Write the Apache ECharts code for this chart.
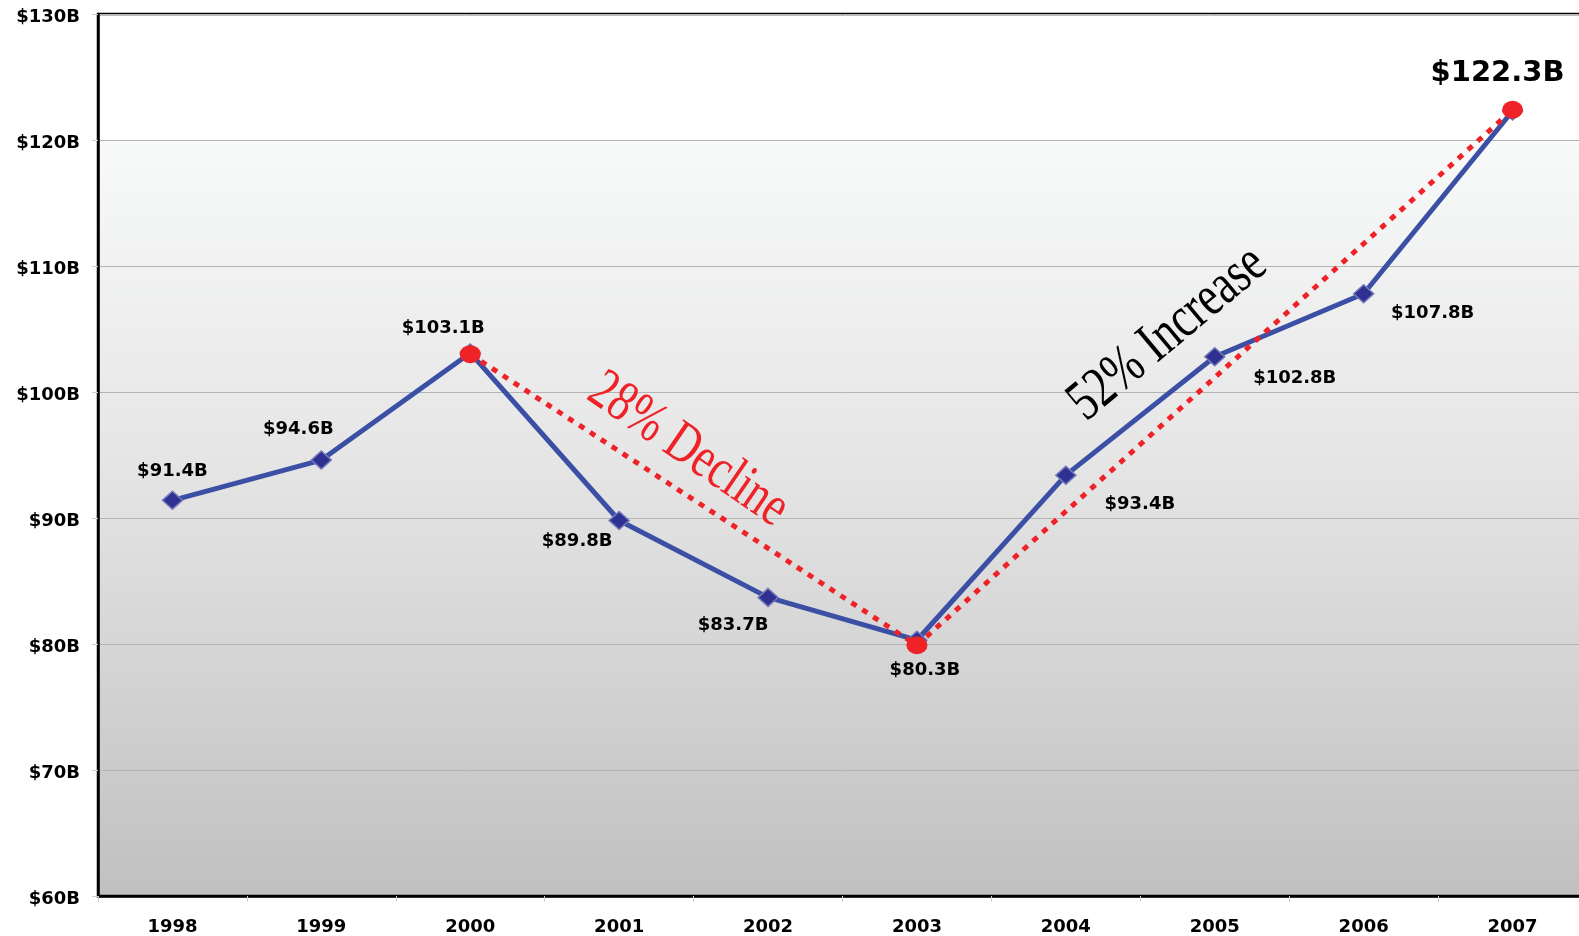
<!DOCTYPE html>
<html>
<head>
<meta charset="utf-8">
<script src="https://cdn.jsdelivr.net/npm/echarts@6/dist/echarts.min.js"></script>
<style>
html,body{margin:0;padding:0;background:#fff;overflow:hidden;width:1579px;height:936px;}
#chart{width:1592px;height:936px;}
</style>
</head>
<body>
<div id="chart"></div>
<script>
// ---- data ----
var years = ['1998','1999','2000','2001','2002','2003','2004','2005','2006','2007'];
var revenue = [91.4, 94.6, 103.1, 89.8, 83.7, 80.3, 93.4, 102.8, 107.8, 122.3];
var trendIdx = [2, 5, 9];
var trendVals = [103.0, 79.9, 122.4];
var yTicks = [60, 70, 80, 90, 100, 110, 120, 130];
var annotations = ['28% Decline', '52% Increase'];

// ---- label placement (style, not data) ----
var labelOffsets = [[0,-29],[-23,-31],[-27,-25],[-42,21],[-35,28],[8,30],[74,29],[80,22],[69,20],[-15,-38]];

var chart = echarts.init(document.getElementById('chart'));

var blueData = revenue.map(function (v, i) {
  var big = i === revenue.length - 1;
  return {
    value: v,
    label: {
      show: true,
      position: 'inside',
      offset: labelOffsets[i],
      fontSize: big ? 29 : 18
    }
  };
});
var redData = trendIdx.map(function (ix, k) { return [ix, trendVals[k]]; });

var option = {
  backgroundColor: '#fff',
  animation: false,
  grid: {
    left: 98, right: 5, top: 14, bottom: 40,
    show: true,
    borderColor: '#000', borderWidth: 2.5,
    backgroundColor: {
      type: 'linear', x: 0, y: 0, x2: 0, y2: 1,
      colorStops: [
        { offset: 0, color: '#ffffff' },
        { offset: 0.142, color: '#ffffff' },
        { offset: 0.145, color: '#f8f9f9' },
        { offset: 0.5, color: '#e6e6e6' },
        { offset: 1, color: '#c0c0c0' }
      ]
    }
  },
  xAxis: {
    type: 'category',
    data: years,
    boundaryGap: true,
    axisLine: { show: true, lineStyle: { color: '#000', width: 2.5 } },
    axisTick: { show: true, length: 6, lineStyle: { color: '#cfcfcf', width: 1 } },
    axisLabel: { margin: 22, fontFamily: 'DejaVu Sans', fontWeight: 'bold', fontSize: 18, color: '#000' },
    splitLine: { show: false }
  },
  yAxis: {
    type: 'value',
    min: yTicks[0], max: yTicks[yTicks.length - 1], interval: 10,
    axisLine: { show: true, lineStyle: { color: '#000', width: 2.5 } },
    axisTick: { show: true, length: 6, lineStyle: { color: '#cfcfcf', width: 1 } },
    axisLabel: {
      margin: 18, fontFamily: 'DejaVu Sans', fontWeight: 'bold', fontSize: 18, color: '#000',
      verticalAlign: 'top', lineHeight: 6,
      formatter: function (v) { return '$' + v + 'B'; }
    },
    splitLine: { show: true, lineStyle: { color: '#b4b4b4', width: 1 } }
  },
  series: [
    {
      type: 'line',
      data: blueData,
      symbol: 'diamond',
      symbolSize: [20, 18],
      lineStyle: { color: '#3b50a5', width: 5 },
      itemStyle: { color: '#2e3192', borderColor: '#7479b8', borderWidth: 1.5 },
      label: {
        fontFamily: 'DejaVu Sans', fontWeight: 'bold', color: '#000',
        formatter: function (p) { return '$' + p.value.toFixed(1) + 'B'; }
      },
      z: 2
    },
    {
      type: 'line',
      data: redData,
      symbol: 'circle',
      symbolSize: [21, 18],
      lineStyle: { color: '#ee2227', width: 5, type: [6, 7], cap: 'butt' },
      itemStyle: { color: '#ee2227' },
      z: 3
    }
  ],
  graphic: [
    {
      type: 'text',
      x: 688, y: 450,
      rotation: -0.60,
      scaleX: 0.76,
      z: 10,
      style: {
        text: annotations[0],
        font: '58px "Liberation Serif"',
        fill: '#ee2227',
        align: 'center', verticalAlign: 'middle',
        shadowColor: 'rgba(90,90,90,0.5)', shadowOffsetX: 5, shadowOffsetY: 4, shadowBlur: 1
      }
    },
    {
      type: 'text',
      x: 1168, y: 334,
      rotation: 0.695,
      scaleX: 0.76,
      z: 10,
      style: {
        text: annotations[1],
        font: '58px "Liberation Serif"',
        fill: '#000',
        align: 'center', verticalAlign: 'middle',
        shadowColor: 'rgba(90,90,90,0.5)', shadowOffsetX: 5, shadowOffsetY: 4, shadowBlur: 1
      }
    }
  ]
};
chart.setOption(option);
</script>
</body>
</html>
